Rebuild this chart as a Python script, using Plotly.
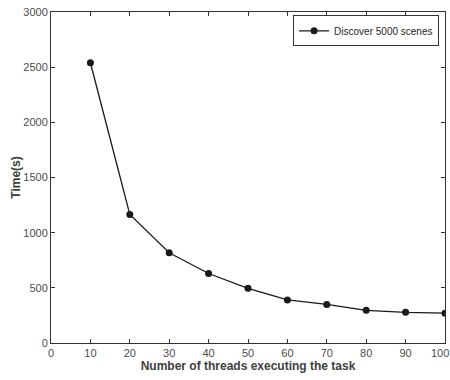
import plotly.graph_objects as go

threads = [10, 20, 30, 40, 50, 60, 70, 80, 90, 100]
times = [2540, 1165, 818, 630, 496, 390, 350, 296, 278, 270]
series_name = "Discover 5000 scenes"
x_ticks = [0, 10, 20, 30, 40, 50, 60, 70, 80, 90, 100]
y_ticks = [0, 500, 1000, 1500, 2000, 2500, 3000]

font_family = "Liberation Sans, Arial"

fig = go.Figure()
fig.add_trace(go.Scatter(
    x=threads, y=times, mode="lines+markers", name=series_name,
    line=dict(color="#1a1a1a", width=1.3),
    marker=dict(color="#1a1a1a", size=7),
))

axis_common = dict(
    showline=True, linecolor="#333333", linewidth=1, mirror="ticks",
    ticks="inside", ticklen=4, tickcolor="#333333", showgrid=False, zeroline=False,
    tickfont=dict(family=font_family, size=11, color="#4d4d4d"),
)

fig.update_layout(
    width=450, height=380,
    margin=dict(l=51, r=5, t=12, b=37),
    paper_bgcolor="white", plot_bgcolor="white",
    showlegend=True,
    legend=dict(x=0.985, y=0.99, xanchor="right", yanchor="top",
                bordercolor="#333333", borderwidth=1, bgcolor="white",
                font=dict(family=font_family, size=10, color="#262626"),
                itemwidth=30, tracegroupgap=0),
    xaxis=dict(range=[0, 100], tickvals=x_ticks[:-1],
               title=dict(text="<b>Number of threads executing the task</b>",
                          font=dict(family=font_family, size=12, color="#404040"),
                          standoff=0),
               **axis_common),
    yaxis=dict(range=[0, 3000], tickvals=y_ticks,
               title=dict(text="<b>Time(s)</b>",
                          font=dict(family=font_family, size=12, color="#404040"),
                          standoff=0),
               **axis_common),
)

# last x tick label (at the right edge in the original), nudged to stay inside
fig.add_annotation(x=x_ticks[-1], y=0, xref="x", yref="paper", text=str(x_ticks[-1]),
                   showarrow=False, xanchor="center", yanchor="top", yshift=-2, xshift=-5,
                   font=dict(family=font_family, size=11, color="#4d4d4d"))

fig.write_html("out.html")
